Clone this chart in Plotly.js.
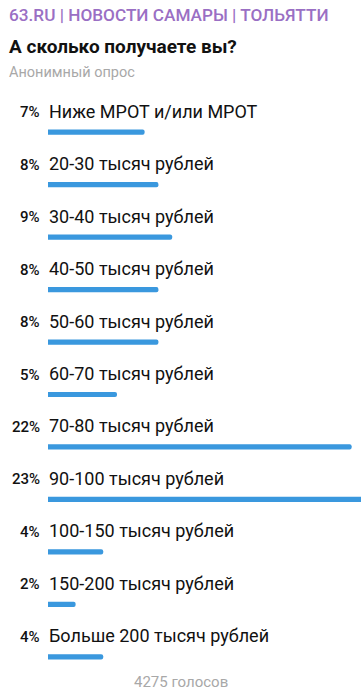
<!DOCTYPE html>
<html>
<head>
<meta charset="utf-8">
<script src="https://cdn.plot.ly/plotly-3.0.1.min.js"></script>
<style>
html,body{margin:0;padding:0;background:#fff;}
#chart{width:361px;height:700px;}
</style>
</head>
<body>
<div id="chart"></div>
<script>
const channelName = "63.RU | НОВОСТИ САМАРЫ | ТОЛЬЯТТИ";
const question = "А сколько получаете вы?";
const pollType = "Анонимный опрос";
const votesLabel = "4275 голосов";

const categories = [
  "Ниже МРОТ и/или МРОТ",
  "20-30 тысяч рублей",
  "30-40 тысяч рублей",
  "40-50 тысяч рублей",
  "50-60 тысяч рублей",
  "60-70 тысяч рублей",
  "70-80 тысяч рублей",
  "90-100 тысяч рублей",
  "100-150 тысяч рублей",
  "150-200 тысяч рублей",
  "Больше 200 тысяч рублей"
];
const percents = [7, 8, 9, 8, 8, 5, 22, 23, 4, 2, 4];
const percentLabels = percents.map(p => p + "%");

const FONT = "Roboto, 'Noto Sans', sans-serif";
const BLUE = "#3a98de";

const trace = {
  type: "bar",
  orientation: "h",
  x: percents,
  y: categories,
  width: 0.1,
  marker: { color: BLUE, cornerradius: 3 },
  hoverinfo: "skip",
  cliponaxis: true
};

const annotations = [];
categories.forEach((c, i) => {
  annotations.push({
    xref: "x", yref: "y", x: 0, y: c,
    xanchor: "left", yanchor: "middle",
    yshift: 21, xshift: -1,
    text: c, showarrow: false,
    font: { family: FONT, size: 18, color: "#111111" }
  });
  annotations.push({
    xref: "x", yref: "y", x: 0, y: c,
    xanchor: "right", yanchor: "middle",
    yshift: 20, xshift: -6,
    text: percentLabels[i], showarrow: false,
    font: { family: FONT, size: 15, color: "#111111", weight: 500 }
  });
});

annotations.push({
  xref: "paper", yref: "paper", x: 0, y: 1, xanchor: "left", yanchor: "middle",
  xshift: -41, yshift: 91, showarrow: false, text: channelName,
  font: { family: FONT, size: 17.2, color: "#9a6fc4", weight: 500 }
});
annotations.push({
  xref: "paper", yref: "paper", x: 0, y: 1, xanchor: "left", yanchor: "middle",
  xshift: -41, yshift: 60, showarrow: false, text: question,
  font: { family: FONT, size: 19, color: "#111111", weight: 700 }
});
annotations.push({
  xref: "paper", yref: "paper", x: 0, y: 1, xanchor: "left", yanchor: "middle",
  xshift: -41, yshift: 34, showarrow: false, text: pollType,
  font: { family: FONT, size: 14.5, color: "#a8a8a8" }
});
annotations.push({
  xref: "paper", yref: "paper", x: (180.5 - 48) / 313, y: 0, xanchor: "center", yanchor: "middle",
  yshift: 1, showarrow: false, text: votesLabel,
  font: { family: FONT, size: 15, color: "#a8a8a8" }
});

const layout = {
  width: 361, height: 700,
  margin: { l: 48, r: 0, t: 106, b: 17, pad: 0 },
  paper_bgcolor: "#ffffff", plot_bgcolor: "#ffffff",
  showlegend: false,
  xaxis: { range: [0, 22.68], visible: false, fixedrange: true },
  yaxis: { type: "category", range: [10.5, -0.5], visible: false, fixedrange: true },
  annotations: annotations,
  hovermode: false
};

Plotly.newPlot("chart", [trace], layout, { displayModeBar: false, staticPlot: true });
</script>
</body>
</html>
